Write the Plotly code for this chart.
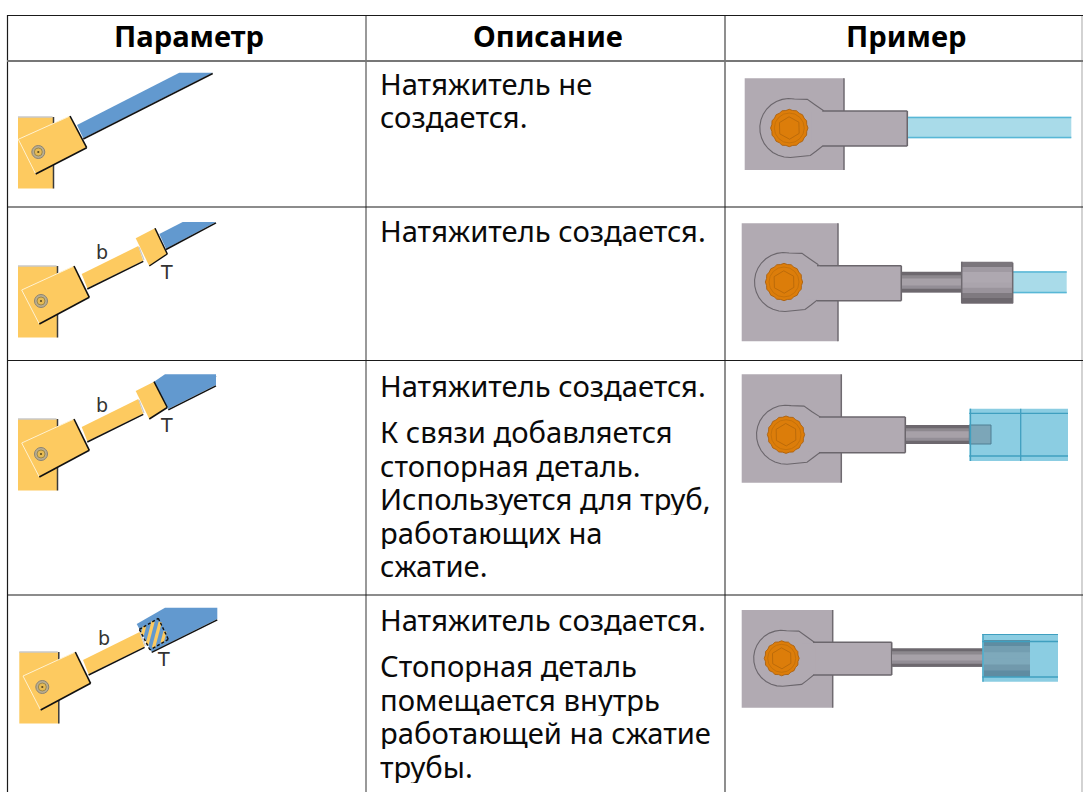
import math
import plotly.graph_objects as go

# ---- table content ----
headers = ["Параметр", "Описание", "Пример"]
descriptions = [
    ["Натяжитель не", "создается."],
    ["Натяжитель создается."],
    ["Натяжитель создается.", "К связи добавляется", "стопорная деталь.", "Используется для труб,", "работающих на", "сжатие."],
    ["Натяжитель создается.", "Стопорная деталь", "помещается внутрь", "работающей на сжатие", "трубы."],
]
line_centres = [
    [83.5, 116.5],
    [230.5],
    [385.5, 431.5, 465.5, 498.5, 532.5, 565.5],
    [619.5, 665.5, 699.5, 732.5, 766.5],
]
col_lines = [7.5, 366, 725, 1082]
row_lines = [15.5, 61, 207, 360.5, 595]

FONT = "Noto Sans"
YEL, BLUE, BLK = "#fdca60", "#6299cf", "#111111"
GREY, GREY_D, LUG_LN = "#b1aab2", "#6f6a70", "#6b666c"
ORANGE, ORANGE_D = "#dc7d0a", "#a85c08"
TUBE, TUBE_E = "#a9dbe9", "#58b7d6"
TUBE2, TUBE2_E = "#8bcde2", "#3f9fbf"

shapes, notes = [], []


def path(pts, close=True):
    s = "M " + " L ".join(f"{x:.2f},{y:.2f}" for x, y in pts)
    return s + (" Z" if close else "")


def poly(pts, fill, line=None, w=0, dash=None):
    shapes.append(dict(type="path", path=path(pts), fillcolor=fill, xref="x", yref="y",
                       line=dict(color=line or fill, width=w, dash=dash)))


def seg(p, q, color, w=1.5, dash=None):
    shapes.append(dict(type="line", x0=p[0], y0=p[1], x1=q[0], y1=q[1], xref="x", yref="y",
                       line=dict(color=color, width=w, dash=dash)))


def rect(x0, y0, x1, y1, fill, line=None, w=0):
    shapes.append(dict(type="rect", x0=x0, y0=y0, x1=x1, y1=y1, xref="x", yref="y", fillcolor=fill,
                       line=dict(color=line or fill, width=w)))


def circle(cx, cy, r, fill, line=None, w=0):
    shapes.append(dict(type="circle", x0=cx - r, y0=cy - r, x1=cx + r, y1=cy + r, xref="x", yref="y",
                       fillcolor=fill, line=dict(color=line or fill, width=w)))


def label(x, y, s, size=19):
    notes.append(dict(x=x, y=y, text=s, showarrow=False, xref="x", yref="y", xanchor="center",
                      yanchor="middle", font=dict(family="DejaVu Sans", size=size, color="#333333")))


def base_left(ox, oy, plate_w):
    rect(18 + ox, oy, 18 + ox + plate_w, oy + 71.5, YEL)
    seg((18 + ox, oy), (17 + ox + plate_w, oy), "#c8c8c8", 1.5)
    seg((18 + ox + plate_w, oy), (18 + ox + plate_w, oy + 71.5), "#3a3a3a", 1.5)


def bracket(c):
    poly(c, YEL)
    seg(c[0], c[1], "#fff2d0", 1)
    seg(c[0], c[3], "#fff2d0", 1)
    seg(c[1], c[2], BLK, 1.6)
    seg(c[3], c[2], BLK, 1.6)


def small_bolt(cx, cy):
    circle(cx, cy, 6.5, "#b9ad90", "#8a8373", 1)
    circle(cx, cy, 4, "#e7bb54", "#8a7b45", 0.8)
    circle(cx, cy, 1.1, "#5b4a1e")


def stripes(box, n=4):
    a, b, c, d = box

    def at(u, v):
        return (a[0] + (b[0] - a[0]) * u + (d[0] - a[0]) * v,
                a[1] + (b[1] - a[1]) * u + (d[1] - a[1]) * v)

    for i in range(n):
        k = 0.28 + i * 0.45
        u0, v0 = (k, 0.0) if k <= 1 else (1.0, k - 1)
        u1, v1 = (0.0, k) if k <= 1 else (k - 1, 1.0)
        seg(at(u0, v0), at(u1, v1), YEL, 3.2)


# ---------- left column pictograms ----------
base_left(0, 117, 35.5)
poly([(77, 125), (179.3, 72.7), (212.7, 72.7), (83.3, 138.3)], BLUE)
seg((83.3, 139), (212.7, 73.5), BLK, 1.5)
bracket([(18.3, 139.3), (70, 116), (86.7, 147.7), (35.7, 174)])
small_bolt(38.3, 152)


def stepped(dy, dx=0.0, big=None):
    base_left(dx, 266 + dy, 39.5)
    sh = lambda p: (p[0] + dx, p[1] + dy)
    if big is None:
        poly([sh(p) for p in [(159.3, 234), (182.7, 222), (216, 222), (166, 248.7)]], BLUE)
        seg(sh((166, 249.5)), sh((216, 222.8)), BLK, 1.5)
    poly([sh(p) for p in [(81.7, 274), (138.3, 246), (143.3, 260.7), (87.3, 288.3)]], YEL)
    seg(sh((87.3, 289)), sh((143.3, 261.3)), BLK, 1.5)
    seg(sh((139, 247)), sh((144, 260)), "#c9c9c9", 1.2)
    bracket([sh(p) for p in [(21.7, 290), (74, 266), (89.3, 297.3), (39.3, 324)]])
    small_bolt(*sh((41, 301)))


stepped(0)
box2 = [(135.7, 238.3), (155, 228.3), (167.3, 254), (149.3, 266)]
poly(box2, YEL)
seg(box2[1], box2[2], BLK, 1.5)
seg(box2[3], box2[2], BLK, 1.5)
label(101.7, 252, "b")
label(166.7, 272, "T")

stepped(153)
poly([(154, 381.7), (165, 374.3), (216, 374.3), (216, 385), (168.3, 409)], BLUE)
seg((168.3, 409.8), (216, 385.8), BLK, 1.5)
box3 = [(135.7, 391), (154, 381.7), (167.3, 407.5), (149.3, 419)]
poly(box3, YEL)
seg(box3[1], box3[2], BLK, 1.5)
seg(box3[3], box3[2], BLK, 1.5)
label(101.7, 405, "b")
label(166.7, 425, "T")

stepped(386, 1.3, big=True)
poly([(136.7, 624), (165, 607.7), (217.3, 607.7), (217.3, 619), (151.7, 651.7)], BLUE)
seg((151.7, 652.4), (217.3, 619.8), BLK, 1.5)
box4 = [(139.3, 629.3), (158.3, 618.3), (168.3, 639.3), (150, 650)]
stripes(box4)
for i in range(4):
    seg(box4[i], box4[(i + 1) % 4], BLK, 1.4, "3px,2px")
label(104, 638, "b")
label(163.5, 658.5, "T")

# ---------- right column pictograms ----------


def eye_outline(lug_hh):
    """rounded eye of radius 29.5 joined to the lug of half height lug_hh"""
    pts = [(34, -lug_hh), (26, -23), (18, -28.6)]
    for deg in range(-100, 101, 12):
        a = math.radians(deg)
        pts.append((-29.5 * math.sin(math.radians(90 + deg)), 29.5 * math.sin(a)))
    pts += [(21, 27.5), (27, 23), (34, lug_hh)]
    return pts


def big_bolt(cx, cy, r, sides=6):
    teeth = []
    for i in range(32):
        a = 2 * math.pi * i / 32
        rr = r if i % 2 == 0 else r - 0.9
        teeth.append((cx + rr * math.cos(a), cy + rr * math.sin(a)))
    poly(teeth, ORANGE, ORANGE_D, 0.8)
    circle(cx, cy, r * 0.8, ORANGE, "#c06f0a", 0.8)
    hexa = [(cx + (r * .6) * math.cos(2 * math.pi * i / sides + .5), cy + (r * .6) * math.sin(2 * math.pi * i / sides + .5))
            for i in range(sides)]
    poly(hexa, ORANGE, "#b8690a", 0.9)


def joint(px0, px1, py0, py1, cx, cy, lug_x, lug_y0, lug_y1, bolt_r, scale=1.0):
    rect(px0, py0, px1, py1, GREY)
    seg((px1, py0), (px1, py1), GREY_D, 1.5)
    hh = (lug_y1 - lug_y0) / 2
    eye = [(cx + x * scale, cy + y * scale) for x, y in eye_outline(hh / scale)]
    poly(eye, GREY, LUG_LN, 1.1)
    rect(cx + 33 * scale, lug_y0, lug_x, lug_y1, GREY)
    seg((cx + 33 * scale, lug_y0), (lug_x, lug_y0), LUG_LN, 1.5)
    seg((cx + 33 * scale, lug_y1), (lug_x, lug_y1), LUG_LN, 1.5)
    seg((lug_x, lug_y0), (lug_x, lug_y1), LUG_LN, 1.6)
    rect(cx + 22 * scale, lug_y0 + 1, cx + 36 * scale, lug_y1 - 1, GREY)
    big_bolt(cx, cy, bolt_r)


def shaded(x0, x1, y0, y1, cols):
    """painter's bands: each band runs to the bottom so no seams appear"""
    h = (y1 - y0) / len(cols)
    for i, c in enumerate(cols):
        rect(x0, y0 + i * h, x1, y1, c)


ROD = ["#6d686e", "#8d888e", "#a7a1a8", "#a7a1a8", "#938e96", "#6d686e"]
COLLAR = ["#7b767c", "#a09aa2", "#aea8b0", "#aea8b0", "#aaa4ac", "#9a949c", "#7f7a80", "#6d686e"]
INNER = ["#5f8ca1", "#739eb1", "#7ea9bb", "#7ea9bb", "#7199ac", "#5f8ca1"]

# row 1
joint(744.7, 844, 78.3, 170, 789.3, 128, 907.3, 111, 146, 18.7)
rect(908, 116.7, 1071.3, 138.3, TUBE)
seg((908, 117.5), (1071.3, 117.5), TUBE_E, 1.5)
seg((908, 137.5), (1071.3, 137.5), TUBE_E, 1.5)

# row 2
joint(741.7, 838, 223.3, 341.3, 784, 282, 901.3, 265.7, 300.7, 18.7)
shaded(902, 962, 271.7, 292.3, ROD)
rect(1013, 271.3, 1066.7, 293.3, TUBE)
seg((1013, 272), (1066.7, 272), TUBE_E, 1.5)
seg((1013, 292.5), (1066.7, 292.5), TUBE_E, 1.5)
shaded(961.7, 1012.7, 261.7, 303.3, COLLAR)
seg((961.7, 261.7), (961.7, 303.3), GREY_D, 1.5)
seg((1012.7, 262.7), (1012.7, 303.3), GREY_D, 1.5)

# row 3
joint(741.7, 841.3, 374.3, 482.7, 786, 434.7, 905.3, 417, 452.7, 18.7)
shaded(906, 970, 425, 444, ROD)
rect(969.3, 408.7, 1068, 461, TUBE2)
rect(969.3, 425, 991, 444, "#7ca6b8", "#4f7e93", 1)
seg((969.3, 413.3), (1068, 413.3), TUBE2_E, 1.3)
seg((969.3, 456), (1068, 456), TUBE2_E, 1.3)
seg((1020.7, 408.7), (1020.7, 461), TUBE2_E, 1.3)
seg((970.5, 408.7), (970.5, 461), TUBE2_E, 1.3)

# row 4
joint(741.7, 832.7, 610, 707.7, 781.7, 658.3, 891.7, 642.3, 675, 17.5, 0.95)
shaded(892, 983, 648.3, 666.7, ROD)
rect(982.3, 634, 1058, 681.7, TUBE2)
shaded(984, 1030, 640, 676.7, INNER)
seg((982.3, 641.5), (1058, 641.5), TUBE2_E, 1.3)
seg((982.3, 677), (1058, 677), TUBE2_E, 1.3)
seg((982.3, 634.5), (1058, 634.5), TUBE2_E, 1.1)
seg((983, 634), (983, 681.7), TUBE2_E, 1.3)

# ---------- table grid ----------
seg((col_lines[0], 15), (col_lines[0], 792), "#1a1a1a", 1.2)
seg((col_lines[1], 15), (col_lines[1], 792), "#555555", 1.2)
seg((col_lines[2], 15), (col_lines[2], 792), "#444444", 1.2)
seg((col_lines[3], 15), (col_lines[3], 792), "#b5b5b5", 1.2)
seg((7, row_lines[0]), (1083, row_lines[0]), "#1a1a1a", 1.2)
seg((7, row_lines[1]), (1083, row_lines[1]), "#777777", 2)
for y in row_lines[2:]:
    seg((7, y), (1083, y), "#1a1a1a", 1.2)

# ---------- text ----------
for i, h in enumerate(headers):
    notes.append(dict(x=(col_lines[i] + col_lines[i + 1]) / 2 + 2, y=35.5, text=f"<b>{h}</b>", showarrow=False,
                      xref="x", yref="y", xanchor="center", yanchor="middle",
                      font=dict(family=FONT, size=29.2, color="#000000")))
for lines, ys in zip(descriptions, line_centres):
    for s, y in zip(lines, ys):
        notes.append(dict(x=378, y=y, text=s, showarrow=False, xref="x", yref="y", xanchor="left",
                          yanchor="middle", height=32, valign="middle",
                          font=dict(family=FONT, size=29.2, color="#0a0a0a")))

fig = go.Figure()
fig.update_layout(
    width=1083, height=792, margin=dict(l=0, r=0, t=0, b=0),
    paper_bgcolor="white", plot_bgcolor="white", showlegend=False,
    xaxis=dict(range=[0, 1083], visible=False, fixedrange=True),
    yaxis=dict(range=[792, 0], visible=False, fixedrange=True),
    shapes=shapes, annotations=notes,
)
fig.write_html("out.html", config=dict(displayModeBar=False),
               post_script="document.body.style.margin='0';document.documentElement.style.overflow='hidden';")
